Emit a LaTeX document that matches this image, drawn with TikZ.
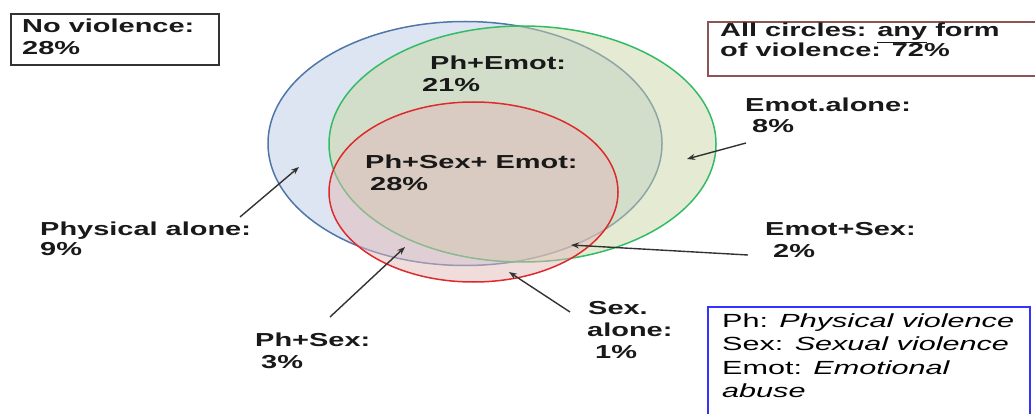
\documentclass[tikz,border=0pt]{standalone}
\usepackage{fontspec}
\setmainfont{Liberation Sans}[FakeStretch=1.54]
\newfontfamily\legfont{Liberation Sans}[FakeStretch=1.61]
\usetikzlibrary{arrows.meta}
\definecolor{bfill}{RGB}{185,203,227}
\definecolor{gfill}{RGB}{201,215,165}
\definecolor{rfill}{RGB}{227,185,185}
\definecolor{bline}{RGB}{79,118,171}
\definecolor{gline}{RGB}{51,187,102}
\definecolor{rline}{RGB}{221,42,42}
\definecolor{brownline}{RGB}{140,85,85}
\definecolor{legline}{RGB}{51,51,255}
\begin{document}
\begin{tikzpicture}[x=1pt,y=-1pt,
 lab/.style={anchor=base west,inner sep=0pt,font=\fontsize{18.8}{20}\selectfont\bfseries,text=black!90},
 leg/.style={anchor=base west,inner sep=0pt,font=\legfont\fontsize{19}{23}\selectfont,text=black},
 arr/.style={-{Stealth[length=8pt,width=6pt]},line width=1.4pt,draw=black!80},
 venn/.style={line width=1.5pt,fill opacity=0.5},
 boxnode/.style={anchor=north west,inner sep=0pt,line width=1.6pt}]
\useasboundingbox (0,0) rectangle (1035,414);

% circles
\filldraw[venn,fill=bfill,draw=bline] (465,143.5) ellipse [x radius=197, y radius=122];
\filldraw[venn,fill=gfill,draw=gline] (522.5,144) ellipse [x radius=193.5, y radius=118];
\filldraw[venn,fill=rfill,draw=rline] (473.5,192) ellipse [x radius=144.5, y radius=90];

% boxes
\node[boxnode,draw=black!80,minimum width=208pt,minimum height=51pt] (nvbox) at (10,13) {};
\node[boxnode,draw=brownline,minimum width=340pt,minimum height=54pt] (allbox) at (707,21) {};
\node[boxnode,draw=legline,line width=2pt,minimum width=322pt,minimum height=120pt] (legbox) at (707,306) {};

% labels
\node[lab] (nv1) at (22,33) {No violence:};
\node[lab] (nv2) at (22,55) {28\%};
\node[lab] (all1) at (720,37) {All circles: \underline{any} form};
\node[lab] (all2) at (720,57) {of violence: 72\%};
\node[lab] (phem1) at (430,70) {Ph+Emot:};
\node[lab] (phem2) at (422,92) {21\%};
\node[lab] (pse1) at (365,168) {Ph+Sex+ Emot:};
\node[lab] (pse2) at (370,190) {28\%};
\node[lab] (ea1) at (745,112) {Emot.alone:};
\node[lab] (ea2) at (752,133) {8\%};
\node[lab] (es1) at (765,235) {Emot+Sex:};
\node[lab] (es2) at (773,257) {2\%};
\node[lab] (pa1) at (40,235) {Physical alone:};
\node[lab] (pa2) at (40,255) {9\%};
\node[lab] (ps1) at (255,346) {Ph+Sex:};
\node[lab] (ps2) at (261,368) {3\%};
\node[lab] (sa1) at (588,314) {Sex.};
\node[lab] (sa2) at (587,336) {alone:};
\node[lab] (sa3) at (595,358) {1\%};

% legend
\node[leg] (lg1) at (722,327) {Ph: \textit{Physical violence}};
\node[leg] (lg2) at (722,350) {Sex: \textit{Sexual violence}};
\node[leg] (lg3) at (722,374) {Emot: \textit{Emotional}};
\node[leg] (lg4) at (722,397) {\textit{abuse}};

% arrow points
\coordinate (paT) at (240,217);
\coordinate (paH) at (299,167);
\coordinate (eaT) at (746,143);
\coordinate (eaH) at (687,159);
\coordinate (esT) at (748,255);
\coordinate (esH) at (571,245);
\coordinate (psT) at (330,317);
\coordinate (psH) at (405,247);
\coordinate (saT) at (570,312);
\coordinate (saH) at (509,272);

\draw[arr] (paT) -- (paH);
\draw[arr] (eaT) -- (eaH);
\draw[arr] (esT) -- (esH);
\draw[arr] (psT) -- (psH);
\draw[arr] (saT) -- (saH);
\end{tikzpicture}
\end{document}
